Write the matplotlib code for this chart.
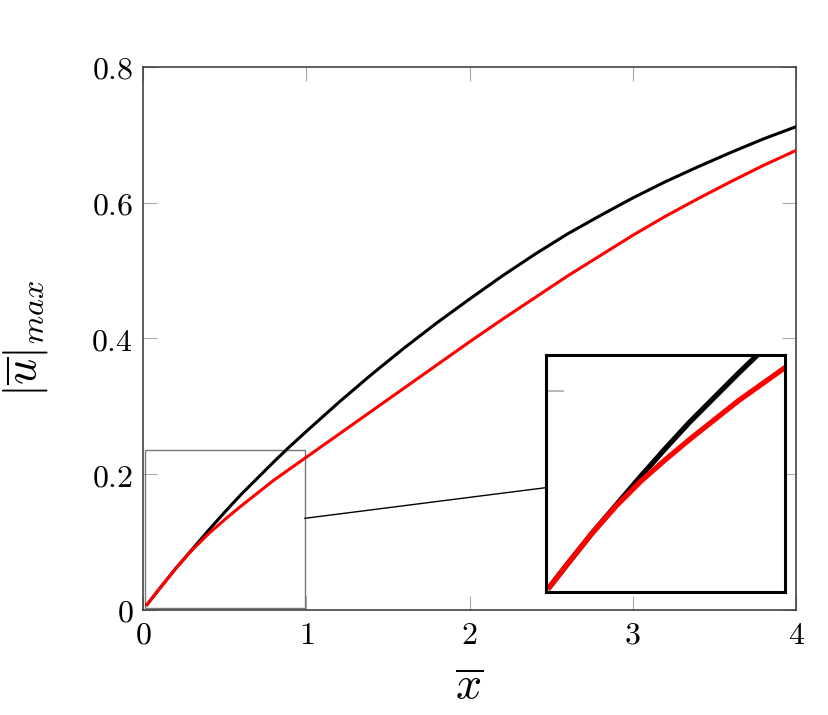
import matplotlib
matplotlib.use("Agg")
import matplotlib.pyplot as plt
from matplotlib.patches import Rectangle, ConnectionPatch

plt.rcParams['mathtext.fontset'] = 'cm'
plt.rcParams['font.family'] = 'serif'
plt.rcParams['font.serif'] = ['DejaVu Serif']

# values
x_bar = [0.025, 0.1, 0.2, 0.3, 0.4, 0.5, 0.6, 0.7, 0.8, 0.9, 1.0,
         1.2, 1.4, 1.6, 1.8, 2.0, 2.2, 2.4, 2.6, 2.8, 3.0, 3.2, 3.4, 3.6, 3.8, 4.0]
u_black = [0.008, 0.031, 0.061, 0.089, 0.117, 0.144, 0.170, 0.194, 0.218, 0.241, 0.263,
           0.306, 0.347, 0.386, 0.423, 0.458, 0.492, 0.524, 0.554, 0.581, 0.607,
           0.631, 0.653, 0.674, 0.694, 0.712]
u_red = [0.008, 0.031, 0.061, 0.088, 0.112, 0.133, 0.153, 0.172, 0.191, 0.208, 0.225,
         0.259, 0.293, 0.327, 0.361, 0.395, 0.428, 0.460, 0.492, 0.522, 0.552,
         0.580, 0.606, 0.631, 0.655, 0.677]

xticks = [0, 1, 2, 3, 4]
yticks = [0, 0.2, 0.4, 0.6, 0.8]
xtick_labels = ['$0$', '$1$', '$2$', '$3$', '$4$']
ytick_labels = ['$0$', '$0.2$', '$0.4$', '$0.6$', '$0.8$']

zoom_x = (0.01, 0.99)
zoom_y = (0.003, 0.236)

fig = plt.figure(figsize=(8.29, 7.15), dpi=100)
ax = fig.add_axes([0.1725, 0.1469, 0.7877, 0.7594])

ax.plot(x_bar, u_black, color='black', lw=2.2, zorder=3)
ax.plot(x_bar, u_red, color='red', lw=2.2, zorder=4)

ax.set_xlim(0, 4)
ax.set_ylim(0, 0.8)
ax.set_xticks(xticks)
ax.set_xticklabels(xtick_labels)
ax.set_yticks(yticks)
ax.set_yticklabels(ytick_labels)
ax.tick_params(direction='in', length=10, width=0.8, color='#aaaaaa',
               top=True, right=True, labelsize=23, pad=7)
for s in ax.spines.values():
    s.set_color('#333333')
    s.set_linewidth(1.1)

ax.set_xlabel(r'$\overline{x}$', fontsize=33, labelpad=10)
ax.set_ylabel(r'$|\overline{u}|_{max}$', fontsize=33, labelpad=30)

# zoom box
rect = Rectangle((zoom_x[0], zoom_y[0]), zoom_x[1] - zoom_x[0], zoom_y[1] - zoom_y[0],
                 fill=False, edgecolor='#777777', lw=1.0, zorder=2)
ax.add_patch(rect)

# inset
ins = ax.inset_axes([0.617, 0.033, 0.366, 0.437])
ins.plot(x_bar, u_black, color='black', lw=3.8)
ins.plot(x_bar, u_red, color='red', lw=3.8)
ins.set_xlim(*zoom_x)
ins.set_ylim(*zoom_y)
ins.set_xticks([])
ins.set_yticks([0.2])
ins.set_yticklabels([])
ins.tick_params(direction='in', length=13, width=1.2, color='#aaaaaa')
for s in ins.spines.values():
    s.set_color('black')
    s.set_linewidth(2.2)

con = ConnectionPatch(xyA=(zoom_x[1], 0.135), coordsA=ax.transData,
                      xyB=(0, 0.44), coordsB=ins.transAxes,
                      color='black', lw=1.0)
fig.add_artist(con)

fig.savefig('out.png', dpi=100)
